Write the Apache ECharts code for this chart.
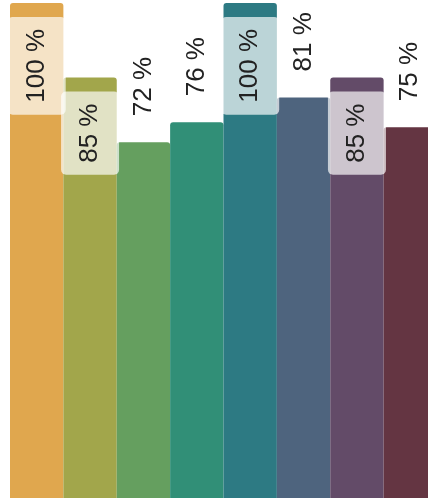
<!DOCTYPE html>
<html>
<head>
<meta charset="utf-8">
<style>
  html, body { margin: 0; padding: 0; background: #fff; }
  #chart { width: 428px; height: 498px; }
</style>
<script src="https://cdn.jsdelivr.net/npm/echarts@6/dist/echarts.min.js"></script>
</head>
<body>
<div id="chart"></div>
<script>
  const categories = ["A", "B", "C", "D", "E", "F", "G", "H"];
  const values = [100, 85, 72, 76, 100, 81, 85, 75];
  const colors = ["#e0a74e", "#a2a64b", "#659f5f", "#318f77", "#2d7a83", "#4e647e", "#634b68", "#643542"];
  // labels sit inside the bar (with a light box) when the value is high enough
  const insideLabel = [true, true, false, false, true, false, true, false];

  const chart = echarts.init(document.getElementById("chart"));

  const baseLabel = {
    show: true,
    rotate: 90,
    distance: 14,
    padding: [16, 12],
    fontSize: 26,
    fontFamily: "'Liberation Sans', Arial, sans-serif",
    color: "#222",
    verticalAlign: "middle",
    formatter: (p) => `${p.value} %`
  };

  chart.setOption({
    animation: false,
    // the last bar runs past the right edge of the picture
    grid: { left: 10, width: 427, top: 3, height: 497, outerBoundsMode: "none", containLabel: false },
    xAxis: {
      type: "category",
      data: categories,
      show: false
    },
    yAxis: {
      type: "value",
      min: 0,
      max: 100,
      show: false
    },
    series: [{
      type: "bar",
      barCategoryGap: "0%",
      data: values.map((v, i) => ({
        value: v,
        itemStyle: { color: colors[i], borderRadius: [3, 3, 0, 0] },
        label: insideLabel[i]
          ? { ...baseLabel, position: "insideTop", align: "right", backgroundColor: "rgba(255,255,255,0.68)", borderRadius: 5 }
          : { ...baseLabel, position: "top", align: "left" }
      }))
    }]
  });
</script>
</body>
</html>
